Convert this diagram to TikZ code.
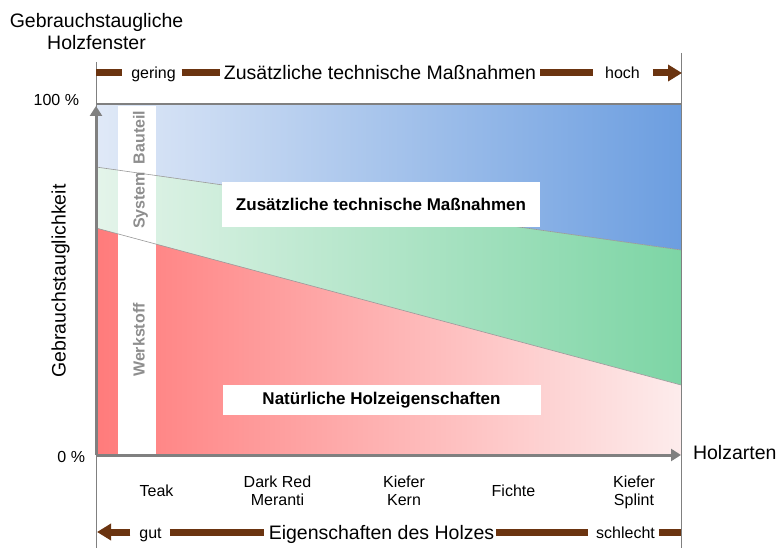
\documentclass[tikz,border=0pt]{standalone}
\usepackage{fontspec}
\setmainfont{Liberation Sans}
\usetikzlibrary{arrows.meta,calc}

\definecolor{blueL}{HTML}{E0E9F7}
\definecolor{blueR}{HTML}{6C9EE0}
\definecolor{greenL}{HTML}{E4F4EA}
\definecolor{greenR}{HTML}{7DD5A5}
\definecolor{redL}{HTML}{FF7B7B}
\definecolor{redR}{HTML}{FDECEC}
\definecolor{axisgray}{HTML}{808080}
\definecolor{stripgray}{HTML}{8E8E8E}
\definecolor{barbrown}{HTML}{6B3410}

\newcommand\fsBig{\fontsize{19.5}{22}\selectfont}
\newcommand\fsMid{\fontsize{16}{18}\selectfont}
\newcommand\fsBox{\fontsize{17}{20}\selectfont\bfseries}
\newcommand\fsStrip{\fontsize{16}{18}\selectfont\bfseries}

\begin{document}
\begin{tikzpicture}[x=1pt,y=-1pt,
  txt/.style={inner sep=0pt, outer sep=0pt, text=black},
  biglbl/.style={txt, font=\fsBig},
  midlbl/.style={txt, font=\fsMid},
  woodlbl/.style={txt, font=\fsMid, align=center},
  striplbl/.style={txt, font=\fsStrip, text=stripgray, rotate=90, anchor=base},
  whitebox/.style={txt, fill=white, font=\fsBox, minimum width=318pt},
  frameline/.style={draw=axisgray, line width=0.9pt},
  axisline/.style={draw=axisgray, line width=3pt},
  axisarrow/.style={axisline, -{Triangle[width=12pt,length=10pt]}},
  edgeline/.style={draw=black!40, line width=0.6pt},
  bandbar/.style={draw=barbrown, line width=7pt},
  bandarrow/.style={bandbar, -{Triangle[width=16pt,length=14pt]}}
]
\useasboundingbox (0,0) rectangle (777,548);

% plot corners and boundaries between the three zones
\coordinate (pTL) at (96,104);
\coordinate (pTR) at (681,104);
\coordinate (pBL) at (96,455);
\coordinate (pBR) at (681,455);
\coordinate (bgL) at (96,167);
\coordinate (bgR) at (681,250);
\coordinate (grL) at (96,228);
\coordinate (grR) at (681,385);

% shaded zones
\shade[left color=blueL, right color=blueR] (pTL) -- (pTR) -- (bgR) -- (bgL) -- cycle;
\shade[left color=greenL, right color=greenR] (bgL) -- (bgR) -- (grR) -- (grL) -- cycle;
\shade[left color=redL, right color=redR] (grL) -- (grR) -- (pBR) -- (pBL) -- cycle;

% white strip with the level names
\fill[white] (118,106) rectangle (156,455);
\draw[edgeline] (bgL) -- (bgR);
\draw[edgeline] (grL) -- (grR);

\node[striplbl] (bauteil) at (144.5,137.5) {Bauteil};
\node[striplbl] (system) at (144.5,200.5) {System};
\node[striplbl] (werkstoff) at (144.5,340) {Werkstoff};

% labelled boxes
\node[whitebox, minimum height=45pt] (boxmass) at (381,204.5) {Zusätzliche technische Maßnahmen};
\node[whitebox, minimum height=30pt] (boxholz) at (381.5,400) {Natürliche Holzeigenschaften};

% frame and axes
\coordinate (lTop) at (96,62);
\coordinate (lBot) at (96,548);
\coordinate (rTop) at (681,53);
\coordinate (rBot) at (681,548);
\draw[frameline] (lTop) -- (lBot);
\draw[frameline] (rTop) -- (rBot);
\draw[axisline, line width=2.6pt] (pTL) -- (pTR);
\draw[axisarrow] (pBL) -- (96,106);
\draw[axisarrow] (pBL) -- (pBR);

% axis texts
\node[biglbl, anchor=base] (title1) at (96.5,28) {Gebrauchstaugliche};
\node[biglbl, anchor=base] (title2) at (96.5,50) {Holzfenster};
\node[midlbl, anchor=base east] (p100) at (79,106) {100 \%};
\node[midlbl, anchor=base east] (p0) at (85,462) {0 \%};
\node[biglbl, anchor=base west] (holzarten) at (693,459) {Holzarten};
\node[biglbl, anchor=base, rotate=90] (ylabel) at (65.5,281) {Gebrauchstauglichkeit};

% wood species
\node[midlbl, anchor=base] (teak) at (156.5,496) {Teak};
\node[woodlbl] (meranti) at (277.5,491) {Dark Red\\Meranti};
\node[woodlbl] (kern) at (404,491) {Kiefer\\Kern};
\node[midlbl, anchor=base] (fichte) at (513.5,496) {Fichte};
\node[woodlbl] (splint) at (634,492) {Kiefer\\Splint};

% top band: additional technical measures
\coordinate (tbL) at (96,73);
\coordinate (tbR) at (682,73);
\node[midlbl, anchor=base] (gering) at (153.5,79) {gering};
\node[biglbl, anchor=base] (massn) at (380,80) {Zusätzliche technische Maßnahmen};
\node[midlbl, anchor=base] (hoch) at (622.5,79) {hoch};
\draw[bandbar] (tbL) -- ($(gering.west |- tbL)+(-9,0)$);
\draw[bandbar] ($(gering.east |- tbL)+(6,0)$) -- ($(massn.west |- tbL)+(-4,0)$);
\draw[bandbar] ($(massn.east |- tbL)+(4,0)$) -- ($(hoch.west |- tbL)+(-12,0)$);
\draw[bandarrow] ($(hoch.east |- tbL)+(13,0)$) -- (tbR);

% bottom band: properties of the wood
\coordinate (bbL) at (97,532);
\coordinate (bbR) at (681,532);
\node[midlbl, anchor=base] (gut) at (150.5,538) {gut};
\node[biglbl, anchor=base] (eigen) at (381.5,539) {Eigenschaften des Holzes};
\node[midlbl, anchor=base] (schlecht) at (625.5,538) {schlecht};
\draw[bandarrow] ($(gut.west |- bbL)+(-9,0)$) -- (bbL);
\draw[bandbar] ($(gut.east |- bbL)+(8,0)$) -- ($(eigen.west |- bbL)+(-5,0)$);
\draw[bandbar] ($(eigen.east |- bbL)+(2,0)$) -- ($(schlecht.west |- bbL)+(-8,0)$);
\draw[bandbar] ($(schlecht.east |- bbL)+(4,0)$) -- (bbR);
\end{tikzpicture}
\end{document}
